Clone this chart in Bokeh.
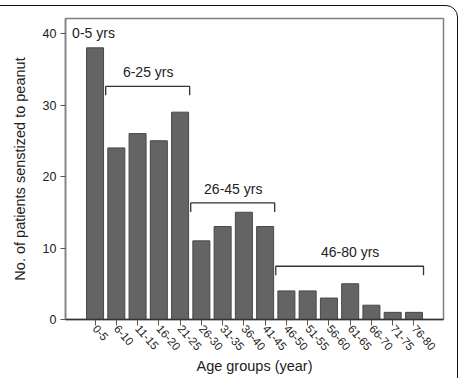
import math
from bokeh.plotting import figure
from bokeh.models import ColumnDataSource, FixedTicker, Range1d, InlineStyleSheet
from bokeh.core.properties import value
from bokeh.embed import file_html
from bokeh.resources import INLINE

# ---- data ----
age_groups = ["0-5", "6-10", "11-15", "16-20", "21-25", "26-30", "31-35", "36-40",
              "41-45", "46-50", "51-55", "56-60", "61-65", "66-70", "71-75", "76-80"]
patients = [38, 24, 26, 25, 29, 11, 13, 15, 13, 4, 4, 3, 5, 2, 1, 1]

group_labels = ["6-25 yrs", "26-45 yrs", "46-80 yrs"]
group_start = [1, 5, 9]
group_end = [4, 8, 15]
bracket_levels = [32.6, 16.3, 7.45]
first_label = "0-5 yrs"

FONT = "Liberation Sans"
TXT = "#222222"

idx = list(range(len(age_groups)))
src = ColumnDataSource(dict(x=idx, top=patients, label=age_groups))

p = figure(width=461, height=378, output_backend="svg", toolbar_location=None,
           x_range=Range1d(-1.39, 16.39), y_range=Range1d(0, 42.1),
           min_border_left=65, min_border_right=18, min_border_top=18, min_border_bottom=59)
p.background_fill_color = "white"
p.border_fill_color = "white"
p.outline_line_color = "#808080"
p.outline_line_width = 1.5
p.xgrid.visible = False
p.ygrid.visible = False

p.vbar(x="x", top="top", width=0.8, bottom=0, source=src,
       fill_color="#646464", line_color="#474747", line_width=1)

# brackets
xs, ys = [], []
lx, ly = [], []
for s, e, lev in zip(group_start, group_end, bracket_levels):
    xs.append([s - 0.5, s - 0.5, e + 0.45, e + 0.45])
    ys.append([lev - 1.25, lev, lev, lev - 1.25])
    lx.append((s + e) / 2)
    ly.append(lev + 2.0)
p.multi_line(xs=xs, ys=ys, line_color="#333333", line_width=1.3)
p.text(x=lx, y=ly, text=group_labels, text_font=value(FONT), text_font_size="14px",
       text_color=TXT, text_align="center", text_baseline="middle")
p.text(x=[-1.08], y=[40.1], text=[first_label], text_font=value(FONT), text_font_size="14px",
       text_color=TXT, text_align="left", text_baseline="middle")

# axes
xa = p.xaxis[0]
xa.ticker = FixedTicker(ticks=idx)
xa.major_label_overrides = {i: lab for i, lab in enumerate(age_groups)}
xa.major_label_orientation = -0.85
xa.major_label_text_font = FONT
xa.major_label_text_font_size = "11.5px"
xa.major_label_text_color = TXT
xa.major_label_standoff = 1
xa.major_tick_in = 0
xa.major_tick_out = 6
xa.minor_tick_line_color = None
xa.axis_line_color = "#333333"
xa.axis_line_width = 1.5
xa.major_tick_line_color = "#555555"
xa.axis_label = "Age groups (year)"
xa.axis_label_text_font = FONT
xa.axis_label_text_font_size = "14.5px"
xa.axis_label_text_font_style = "normal"
xa.axis_label_text_color = TXT
xa.axis_label_standoff = 1

ya = p.yaxis[0]
ya.ticker = FixedTicker(ticks=[0, 10, 20, 30, 40])
ya.major_label_text_font = FONT
ya.major_label_text_font_size = "12.5px"
ya.major_label_text_color = TXT
ya.major_tick_in = 0
ya.major_tick_out = 5
ya.minor_tick_line_color = None
ya.axis_line_color = "#808080"
ya.axis_line_width = 1.5
ya.major_tick_line_color = "#555555"
ya.major_label_standoff = 4
ya.axis_label = "No. of patients senstized to peanut"
ya.axis_label_text_font = FONT
ya.axis_label_text_font_size = "14.5px"
ya.axis_label_text_font_style = "normal"
ya.axis_label_text_color = TXT
ya.axis_label_standoff = 12

# outer rounded frame of the original figure panel (pure CSS decoration)
p.stylesheets = [InlineStyleSheet(css="""
:host { position: relative; }
:host::after {
  content: ''; position: absolute; left: -12px; width: 470px; top: 5px; height: 420px;
  border: 1.3px solid #111; border-radius: 12px; pointer-events: none; box-sizing: border-box;
}
""")]

open("out.html", "w").write(file_html(p, INLINE))
